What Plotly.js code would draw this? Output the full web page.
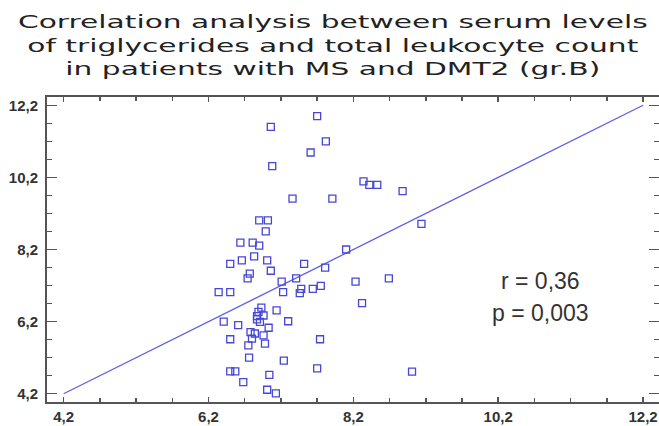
<!DOCTYPE html>
<html>
<head>
<meta charset="utf-8">
<script src="https://cdn.plot.ly/plotly-3.0.1.min.js"></script>
<style>html,body{margin:0;padding:0;background:#fff;}#chart{width:659px;height:426px;}</style>
</head>
<body>
<div id="chart"></div>
<script>
// Serum triglycerides (x) vs total leukocyte count (y), group B
const triglycerides = [7.70, 7.06, 7.82, 7.61, 7.08, 8.34, 8.42, 8.53, 8.88, 7.36,
  7.91, 9.14, 6.90, 7.02, 6.99, 6.64, 6.81, 6.90, 8.10, 6.50,
  6.66, 6.83, 7.01, 7.06, 6.77, 6.74, 7.52, 7.81, 7.21, 7.41,
  6.34, 6.50, 7.23, 7.48, 7.46, 7.64, 7.75, 8.23, 8.69, 8.32,
  6.93, 7.14, 6.89, 6.87, 6.96, 6.87, 6.91, 7.30, 6.41, 6.61,
  7.03, 6.78, 6.96, 6.80, 6.84, 6.50, 6.98, 6.75, 7.74, 6.76,
  7.24, 6.50, 6.57, 7.70, 7.04, 6.68, 7.01, 7.13, 9.01];
const leukocytes = [11.90, 11.60, 11.20, 10.89, 10.51, 10.09, 9.99, 9.99, 9.82, 9.61,
  9.61, 8.91, 9.01, 9.01, 8.70, 8.39, 8.39, 8.31, 8.20, 7.80,
  7.90, 8.01, 7.90, 7.61, 7.53, 7.40, 7.80, 7.70, 7.31, 7.40,
  7.02, 7.02, 7.02, 7.11, 6.99, 7.11, 7.19, 7.31, 7.40, 6.71,
  6.59, 6.51, 6.47, 6.35, 6.37, 6.26, 6.19, 6.21, 6.20, 6.10,
  6.03, 5.91, 5.82, 5.73, 5.87, 5.71, 5.59, 5.54, 5.71, 5.20,
  5.12, 4.82, 4.82, 4.90, 4.72, 4.52, 4.31, 4.21, 4.81];
const fitX = [4.2, 12.2];
const fitY = [4.2, 12.2];
const tickVals = [4.2, 6.2, 8.2, 10.2, 12.2];
const tickText = ['4,2', '6,2', '8,2', '10,2', '12,2'];
const titleLines = ['Correlation analysis between serum levels',
  'of triglycerides and total leukocyte count',
  'in patients with MS and DMT2 (gr.B)'];
const statsLines = ['r = 0,36', 'p = 0,003'];

const axisCommon = {
  showgrid: false, zeroline: false,
  showline: true, linecolor: '#555', linewidth: 2, mirror: 'allticks',
  ticks: 'inside', tickcolor: '#555', tickwidth: 1.5,
  tickmode: 'array', tickvals: tickVals, ticktext: tickText,
  tickfont: {family: 'Liberation Sans, Arial, sans-serif', size: 15, color: '#333', weight: 'bold'}
};

const data = [
  {x: fitX, y: fitY, type: 'scatter', mode: 'lines',
   line: {color: 'rgb(95,95,230)', width: 1.3}, hoverinfo: 'skip'},
  {x: triglycerides, y: leukocytes, type: 'scatter', mode: 'markers',
   marker: {symbol: 'square-open', size: 7, color: 'rgb(70,70,215)', line: {width: 1.3}}}
];

const layout = {
  width: 659, height: 426,
  margin: {l: 47, r: 0, t: 97, b: 24},
  paper_bgcolor: '#fff', plot_bgcolor: '#fff',
  showlegend: false, hovermode: false,
  title: {text: titleLines.join('<br>'), x: 0.505, xanchor: 'center', y: 0.934, yanchor: 'top',
    font: {family: 'DejaVu Sans', size: 18, color: '#222'}},
  xaxis: Object.assign({}, axisCommon, {range: [3.97, 12.42], ticklen: 5,
    minor: {tick0: 4.2, dtick: 0.5, ticks: 'inside', ticklen: 4, tickcolor: '#555', tickwidth: 1.5}}),
  yaxis: Object.assign({}, axisCommon, {range: [3.97, 12.43], ticklen: 10, ticklabelstandoff: 4,
    minor: {tick0: 4.2, dtick: 0.5, ticks: 'inside', ticklen: 5, tickcolor: '#555', tickwidth: 1.5}}),
  annotations: [
    {text: statsLines[0], x: 10.78, y: 7.33, xref: 'x', yref: 'y', showarrow: false,
     font: {family: 'Liberation Sans, Arial, sans-serif', size: 23, color: '#333'}},
    {text: statsLines[1], x: 10.78, y: 6.45, xref: 'x', yref: 'y', showarrow: false,
     font: {family: 'Liberation Sans, Arial, sans-serif', size: 23, color: '#333'}}
  ]
};

Plotly.newPlot('chart', data, layout, {staticPlot: true, displayModeBar: false}).then(function () {
  // the reference title is rendered horizontally stretched
  const t = document.querySelector('.gtitle');
  if (t) {
    const bb = t.getBBox();
    const cx = bb.x + bb.width / 2;
    const s = 630 / bb.width;
    const prev = t.getAttribute('transform') || '';
    t.setAttribute('transform', prev + ' translate(' + cx + ',0) scale(' + s + ',1) translate(' + (-cx) + ',0)');
  }
});
</script>
</body>
</html>
